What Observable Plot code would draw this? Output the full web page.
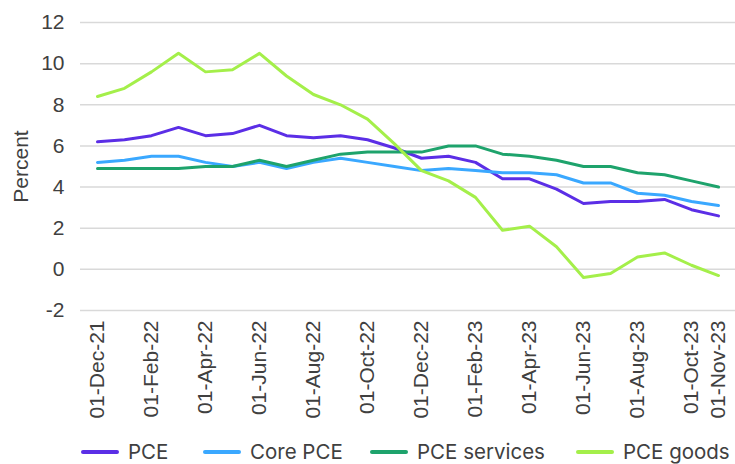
<!DOCTYPE html>
<html>
<head>
<meta charset="utf-8">
<script src="https://cdn.jsdelivr.net/npm/d3@7"></script>
<script src="https://cdn.jsdelivr.net/npm/@observablehq/plot@0.6"></script>
<style>
  body { margin: 0; background: #fff; font-family: "Liberation Sans", Arial, sans-serif; }
  #chart { width: 735px; }
  #legend { position: relative; width: 735px; height: 24px; font-family: Inter, Roboto, sans-serif; font-size: 20.5px; color: #404040; }
  .item { position: absolute; top: 0; height: 24px; line-height: 24px; display: flex; align-items: center; white-space: nowrap; }
  .sw { width: 38px; height: 4px; border-radius: 2px; margin-right: 9px; }
</style>
</head>
<body>
<div id="chart"></div>
<div id="legend"></div>
<script>
const months = ["01-Dec-21","01-Jan-22","01-Feb-22","01-Mar-22","01-Apr-22","01-May-22","01-Jun-22","01-Jul-22","01-Aug-22","01-Sep-22","01-Oct-22","01-Nov-22","01-Dec-22","01-Jan-23","01-Feb-23","01-Mar-23","01-Apr-23","01-May-23","01-Jun-23","01-Jul-23","01-Aug-23","01-Sep-23","01-Oct-23","01-Nov-23"];
const tickLabels = ["01-Dec-21","01-Feb-22","01-Apr-22","01-Jun-22","01-Aug-22","01-Oct-22","01-Dec-22","01-Feb-23","01-Apr-23","01-Jun-23","01-Aug-23","01-Oct-23","01-Nov-23"];
const yTicks = [-2, 0, 2, 4, 6, 8, 10, 12];

const seriesNames = ["PCE", "Core PCE", "PCE services", "PCE goods"];
const seriesColors = ["#5b2ee6", "#3aa8ff", "#1ea36c", "#a4ef4a"];

const pce      = [6.2, 6.3, 6.5, 6.9, 6.5, 6.6, 7.0, 6.5, 6.4, 6.5, 6.3, 5.9, 5.4, 5.5, 5.2, 4.4, 4.4, 3.9, 3.2, 3.3, 3.3, 3.4, 2.9, 2.6];
const corePce  = [5.2, 5.3, 5.5, 5.5, 5.2, 5.0, 5.2, 4.9, 5.2, 5.4, 5.2, 5.0, 4.8, 4.9, 4.8, 4.7, 4.7, 4.6, 4.2, 4.2, 3.7, 3.6, 3.3, 3.1];
const services = [4.9, 4.9, 4.9, 4.9, 5.0, 5.0, 5.3, 5.0, 5.3, 5.6, 5.7, 5.7, 5.7, 6.0, 6.0, 5.6, 5.5, 5.3, 5.0, 5.0, 4.7, 4.6, 4.3, 4.0];
const goods    = [8.4, 8.8, 9.6, 10.5, 9.6, 9.7, 10.5, 9.4, 8.5, 8.0, 7.3, 6.1, 4.8, 4.3, 3.5, 1.9, 2.1, 1.1, -0.4, -0.2, 0.6, 0.8, 0.2, -0.3];

const seriesValues = [pce, corePce, services, goods];
const data = seriesNames.flatMap((name, k) =>
  months.map((m, i) => ({ month: m, value: seriesValues[k][i], series: name }))
);

const chart = Plot.plot({
  width: 735,
  height: 440,
  marginLeft: 80,
  marginRight: 0,
  marginTop: 22,
  marginBottom: 130,
  style: { fontFamily: "'Liberation Sans', Arial, sans-serif", fontSize: "21px", color: "#404040", background: "#fff" },
  x: { type: "point", domain: months, padding: 0.54 },
  y: { domain: [-2, 12] },
  color: { domain: seriesNames, range: seriesColors },
  marks: [
    Plot.gridY(yTicks, { stroke: "#d9d9d9", strokeOpacity: 1, strokeWidth: 1.5 }),
    Plot.axisY(yTicks, { tickSize: 0, tickPadding: 16, tickFormat: d => String(d), label: "Percent", labelAnchor: "center", labelArrow: "none", labelOffset: 67, fill: "#404040" }),
    Plot.axisX(tickLabels, { tickSize: 0, tickRotate: -90, tickPadding: 10, label: null, fill: "#404040" }),
    Plot.line(data, { x: "month", y: "value", stroke: "series", strokeWidth: 3, strokeLinejoin: "round", strokeLinecap: "round" })
  ]
});
document.getElementById("chart").appendChild(chart);

const legendLeft = [81, 203, 370, 576];
const legend = document.getElementById("legend");
seriesNames.forEach((name, k) => {
  const item = document.createElement("div");
  item.className = "item";
  item.style.left = legendLeft[k] + "px";
  const sw = document.createElement("div");
  sw.className = "sw";
  sw.style.background = seriesColors[k];
  const label = document.createElement("span");
  label.textContent = name;
  item.appendChild(sw);
  item.appendChild(label);
  legend.appendChild(item);
});
</script>
</body>
</html>
